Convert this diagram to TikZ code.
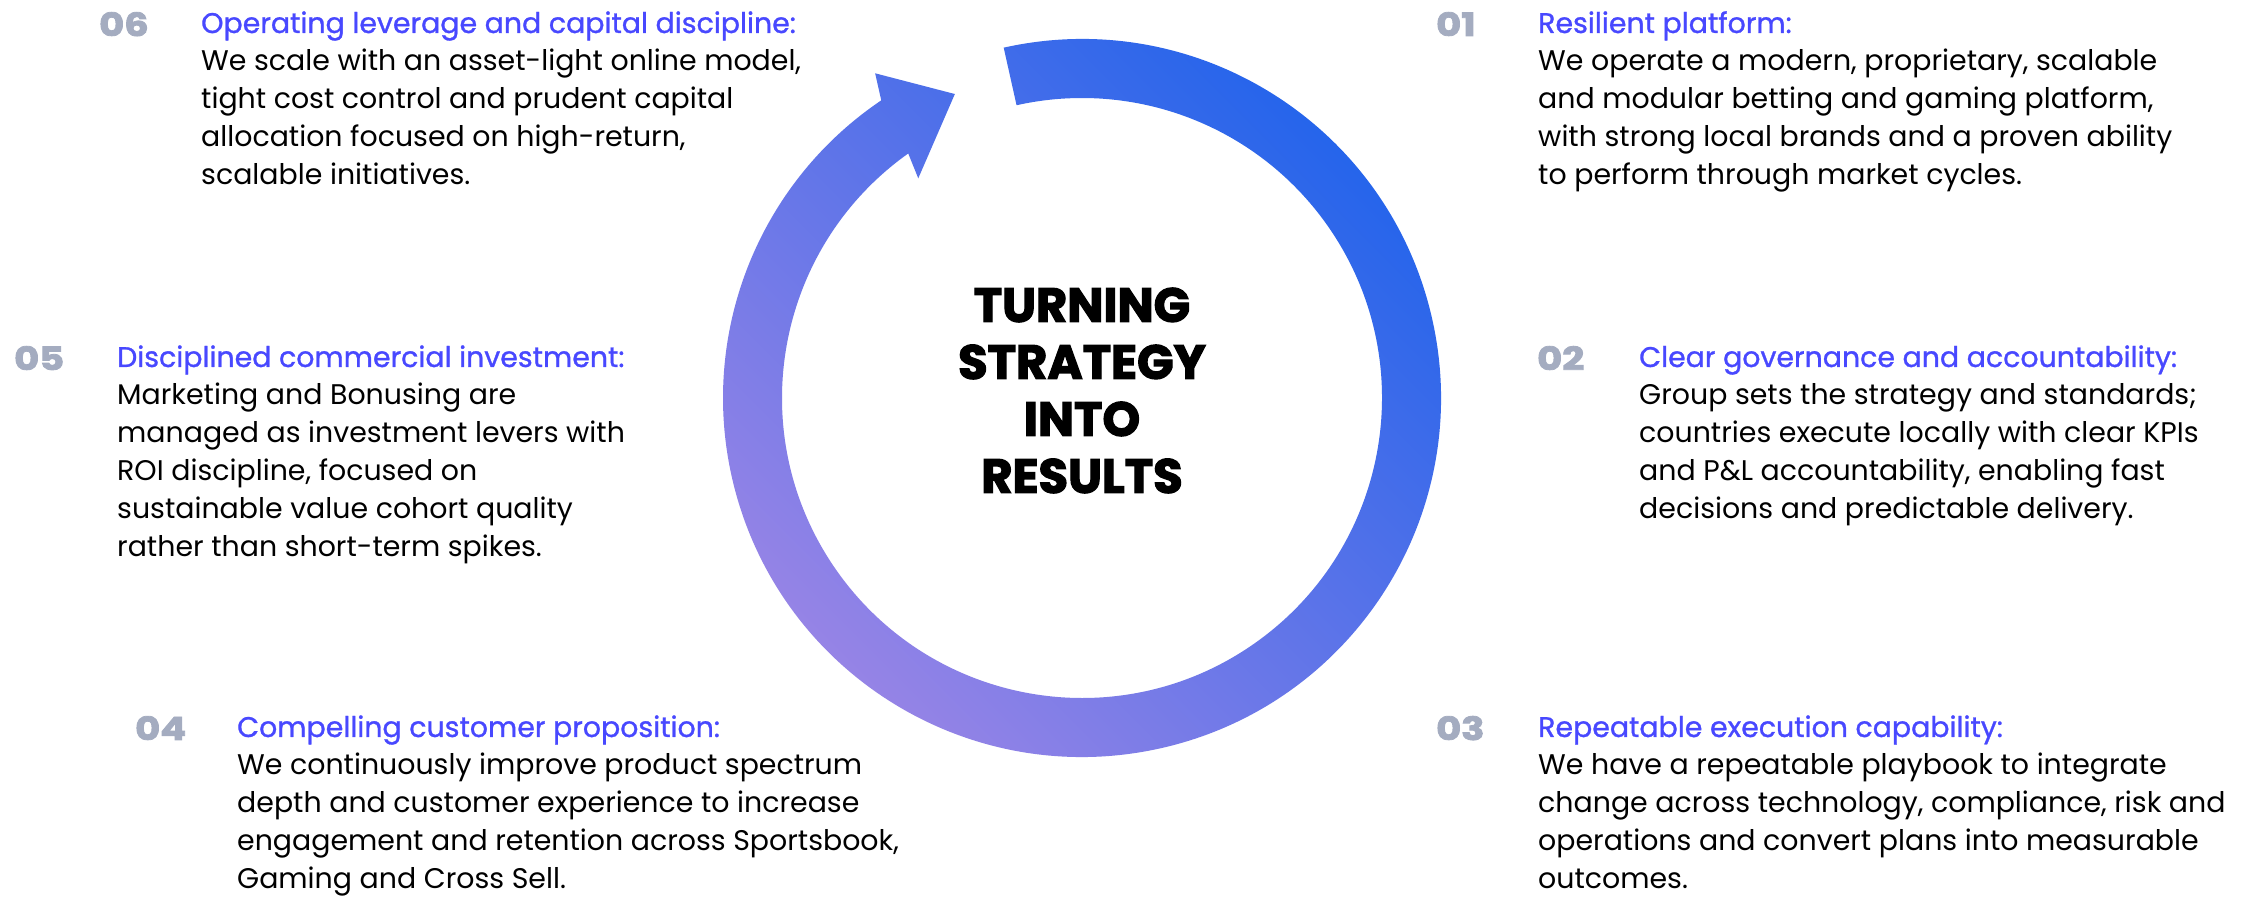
\documentclass[tikz,border=0pt]{standalone}
\usepackage{graphicx}
\usepackage{fontspec}
\setmainfont{Poppins}
\newfontfamily\heavyfont[BoldFeatures={FakeBold=2.5}]{Poppins}
\newfontfamily\titlefont[FakeBold=1.0]{Poppins}
\usetikzlibrary{calc}
\definecolor{ttlblue}{RGB}{72,72,255}
\definecolor{numgray}{RGB}{164,172,192}
\definecolor{ringA}{RGB}{154,133,230}
\definecolor{ringB}{RGB}{32,99,235}
\tikzset{
  numlbl/.style={anchor=base west, inner sep=0pt, text=numgray,
    font=\heavyfont\bfseries\fontsize{32}{32}\selectfont},
  blocktxt/.style={anchor=base west, inner sep=0pt,
    font=\fontsize{28.4}{38}\selectfont},
  centertxt/.style={align=center, inner sep=0pt,
    font=\heavyfont\bfseries\fontsize{48}{57}\selectfont},
  ringshade/.style={bottom color=ringA, top color=ringB, shading angle=-45},
}
\newcommand\blocktext[2]{\begin{tabular}[t]{@{}l@{}}{\color{ttlblue}\titlefont #1}\\ #2\end{tabular}}
\newcommand\numtext[1]{\scalebox{1.2}[1]{#1}}
\begin{document}
\begin{tikzpicture}[x=1pt,y=1pt]
\useasboundingbox (0,0) rectangle (2260,900);
\fill[white] (0,0) rectangle (2260,900);

% ring arrow
\coordinate (C) at (1082,502);
\shade[ringshade]
  ($(C)+(102.6:359)$) arc[start angle=102.6, end angle=-236, radius=359]
  -- ($(C)+(122.5:385)$) -- ($(C)+(112.7:329.5)$) -- ($(C)+(126.7:274)$)
  -- ($(C)+(125.4:300)$) arc[start angle=-234.6, end angle=102.6, radius=300]
  -- cycle;

\node[centertxt] (ctr) at (1082,509.5) {TURNING\\STRATEGY\\INTO\\RESULTS};

% 06
\node[numlbl] (n06) at (99,864) {\numtext{06}};
\node[blocktxt] (b06) at (201,867) {\blocktext{Operating leverage and capital discipline:}{We scale with an asset-light online model,\\ tight cost control and prudent capital\\ allocation focused on high-return,\\ scalable initiatives.}};

% 05
\node[numlbl] (n05) at (14,530) {\numtext{05}};
\node[blocktxt] (b05) at (117,533) {\blocktext{Disciplined commercial investment:}{Marketing and Bonusing are\\ managed as investment levers with\\ ROI discipline, focused on\\ sustainable value cohort quality\\ rather than short-term spikes.}};

% 04
\node[numlbl] (n04) at (135,160) {\numtext{04}};
\node[blocktxt] (b04) at (237,163) {\blocktext{Compelling customer proposition:}{We continuously improve product spectrum\\ depth and customer experience to increase\\ engagement and retention across Sportsbook,\\ Gaming and Cross Sell.}};

% 01
\node[numlbl] (n01) at (1436,864) {\numtext{01}};
\node[blocktxt] (b01) at (1538,867) {\blocktext{Resilient platform:}{We operate a modern, proprietary, scalable\\ and modular betting and gaming platform,\\ with strong local brands and a proven ability\\ to perform through market cycles.}};

% 02
\node[numlbl] (n02) at (1537,530) {\numtext{02}};
\node[blocktxt] (b02) at (1639,533) {\blocktext{Clear governance and accountability:}{Group sets the strategy and standards;\\ countries execute locally with clear KPIs\\ and P\&L accountability, enabling fast\\ decisions and predictable delivery.}};

% 03
\node[numlbl] (n03) at (1436,160) {\numtext{03}};
\node[blocktxt] (b03) at (1538,163) {\blocktext{Repeatable execution capability:}{We have a repeatable playbook to integrate\\ change across technology, compliance, risk and\\ operations and convert plans into measurable\\ outcomes.}};
\end{tikzpicture}
\end{document}
